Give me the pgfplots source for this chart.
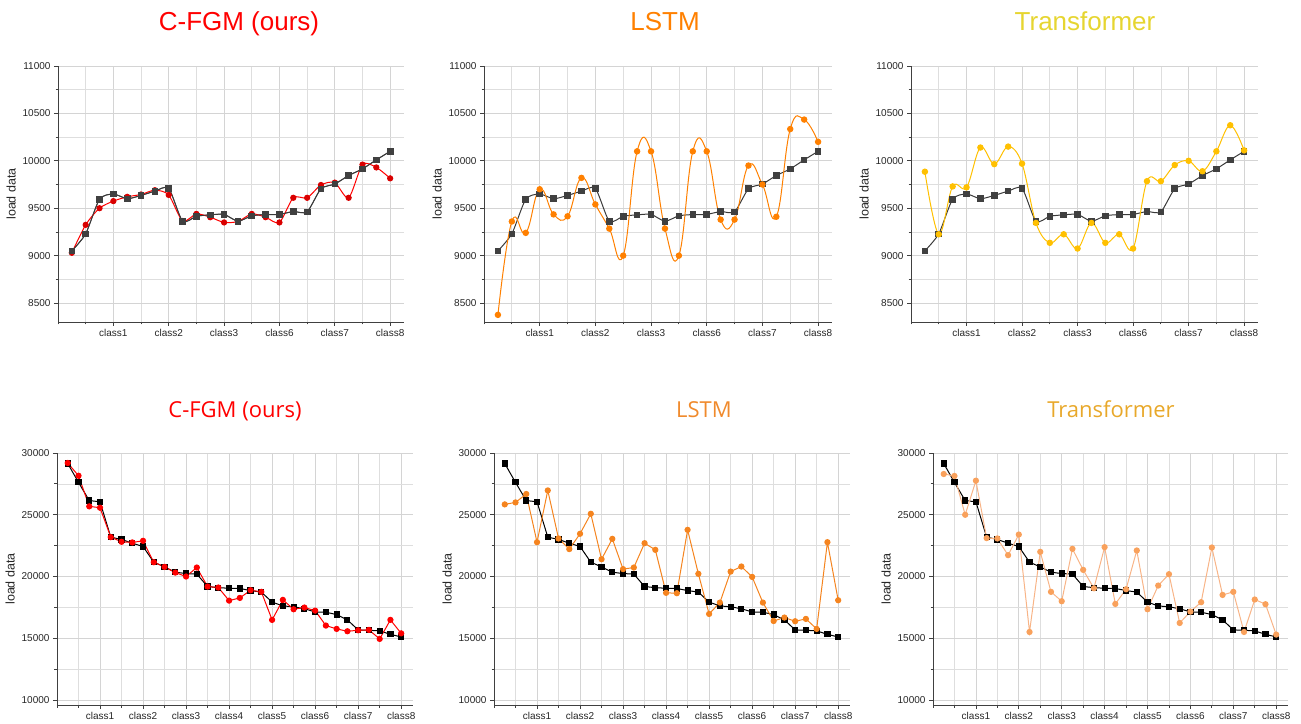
\documentclass[border=0pt]{standalone}
\usepackage{pgfplots}
\usepackage{pgfplotstable}
\pgfplotsset{compat=1.18}
\usepackage{fontspec}
\setmainfont{Liberation Sans}
\newfontfamily\titlefont{Open Sans}

\definecolor{cfgm}{HTML}{FF0000}
\definecolor{lstmA}{HTML}{FF8000}
\definecolor{transA}{HTML}{FFC000}
\definecolor{transAtitle}{HTML}{E6D530}
\definecolor{lstmB}{HTML}{F5841F}
\definecolor{lstmBtitle}{HTML}{F08A2C}
\definecolor{transB}{HTML}{F9A15C}
\definecolor{transBline}{HTML}{F8B487}
\definecolor{transBtitle}{HTML}{E8A82A}
\definecolor{gtA}{HTML}{404040}

% first data set: 24 samples
\pgfplotstableread{
x gt cfgm lstm trans
1 9050 9030 8375 9885
2 9230 9325 9360 9225
3 9595 9500 9240 9730
4 9650 9575 9700 9720
5 9600 9620 9435 10140
6 9635 9645 9415 9965
7 9680 9690 9820 10150
8 9710 9640 9540 9970
9 9363 9365 9285 9345
10 9415 9440 9000 9135
11 9430 9405 10100 9225
12 9435 9350 10100 9075
13 9363 9360 9285 9345
14 9420 9440 9000 9135
15 9433 9405 10100 9225
16 9435 9350 10100 9075
17 9465 9610 9380 9785
18 9462 9610 9380 9785
19 9705 9745 9950 9955
20 9755 9770 9750 10000
21 9845 9610 9410 9890
22 9915 9960 10335 10100
23 10010 9930 10435 10375
24 10100 9815 10200 10110
}\topdata

% second data set: 32 samples
\pgfplotstableread{
x gt cfgm lstm trans
1 29150 29190 25840 28300
2 27620 28160 26000 28140
3 26150 25680 26680 25000
4 26050 25570 22780 27760
5 23190 23190 26970 23110
6 23000 22810 23080 23080
7 22700 22760 22220 21730
8 22430 22890 23460 23400
9 21160 21160 25080 15510
10 20780 20780 21400 22000
11 20350 20320 23050 18760
12 20240 20000 20600 18000
13 20200 20730 20730 22240
14 19190 19190 22700 20540
15 19100 19110 22160 19050
16 19050 18050 18680 22380
17 19030 18270 18650 17780
18 18865 18890 23780 18970
19 18740 18760 20220 22110
20 17930 16490 16970 17350
21 17620 18110 17890 19270
22 17550 17350 20400 20190
23 17390 17490 20810 16240
24 17135 17240 19970 17160
25 17110 16030 17890 17920
26 16920 15760 16400 22350
27 16490 15570 16680 18510
28 15680 15650 16380 18760
29 15650 15680 16570 15510
30 15600 14950 15760 18140
31 15320 16490 22780 17760
32 15110 15400 18080 15300
}\botdata

\pgfplotsset{
  panel/.style={
    scale only axis,
    axis x line=bottom, axis y line=left,
    axis line style={-, draw=black!75, line width=0.9pt},
    every tick/.style={draw=black!75, line width=0.8pt},
    tick align=outside, major tick length=4pt, minor tick length=2.5pt,
    grid=both,
    major grid style={draw=black!17, line width=0.7pt},
    minor grid style={draw=black!13, line width=0.7pt},
    tick label style={font=\fontsize{10}{12}\selectfont, text=black!85},
    scaled y ticks=false,
    /pgf/number format/assume math mode=true,
    /pgf/number format/1000 sep={},
    /pgf/number format/fixed,
    ylabel={load data},
    ylabel style={font=\fontsize{12.5}{14}\selectfont, text=black!85},
  },
  toprow/.style={
    panel, height=256pt,
    xmin=0, xmax=25, ymin=8300, ymax=11000,
    xtick={4,8,...,24},
    xticklabels={class1,class2,class3,class6,class7,class8},
    minor xtick={0,2,6,...,22},
    ytick={8500,9000,...,11000},
    minor ytick={8750,9250,...,10750},
  },
  botrow/.style={
    panel, height=252pt,
    xmin=0, xmax=33.1, ymin=9600, ymax=30000,
    xtick={4,8,...,32},
    xticklabels={class1,class2,class3,class4,class5,class6,class7,class8},
    minor xtick={0,2,6,...,30},
    ytick={10000,15000,...,30000},
    minor ytick={12500,17500,22500,27500},
  },
  gtTop/.style={draw=gtA!90!black, line width=1pt, smooth, tension=0.4,
    mark=square*, mark size=2.8pt, mark options={fill=gtA, draw=gtA}},
  gtBot/.style={draw=black, line width=1pt,
    mark=square*, mark size=2.6pt, mark options={fill=black, draw=black}},
}

\begin{document}
\begin{tikzpicture}
\useasboundingbox (0,0) rectangle (1301pt,723pt);

% ---------- first row ----------
\begin{axis}[toprow, at={(58pt,401pt)}, anchor=south west, width=346pt]
  \addplot[gtTop] table[x=x,y=gt]{\topdata};
  \addplot[draw=cfgm, line width=1pt, smooth, tension=0.45,
    mark=*, mark size=2.6pt, mark options={fill=cfgm!85!black, draw=cfgm!85!black}]
    table[x=x,y=cfgm]{\topdata};
  \addplot[gtTop, line width=0.8pt] table[x=x,y=gt]{\topdata};
\end{axis}

\begin{axis}[toprow, at={(484pt,401pt)}, anchor=south west, width=348pt]
  \addplot[gtTop] table[x=x,y=gt]{\topdata};
  \addplot[draw=lstmA, line width=1pt, smooth, tension=0.75,
    mark=*, mark size=2.7pt, mark options={fill=lstmA, draw=lstmA}]
    table[x=x,y=lstm]{\topdata};
\end{axis}

\begin{axis}[toprow, at={(911pt,401pt)}, anchor=south west, width=347pt]
  \addplot[gtTop] table[x=x,y=gt]{\topdata};
  \addplot[draw=transA, line width=1pt, smooth, tension=0.6,
    mark=*, mark size=2.7pt, mark options={fill=transA, draw=transA}]
    table[x=x,y=trans]{\topdata};
\end{axis}

% ---------- second row ----------
\begin{axis}[botrow, at={(57pt,18pt)}, anchor=south west, width=356pt]
  \addplot[gtBot] table[x=x,y=gt]{\botdata};
  \addplot[draw=cfgm, line width=1pt,
    mark=*, mark size=2.6pt, mark options={fill=cfgm, draw=cfgm}]
    table[x=x,y=cfgm]{\botdata};
\end{axis}

\begin{axis}[botrow, at={(494pt,18pt)}, anchor=south west, width=356pt]
  \addplot[gtBot] table[x=x,y=gt]{\botdata};
  \addplot[draw=lstmB, line width=1pt,
    mark=*, mark size=2.6pt, mark options={fill=lstmB, draw=lstmB}]
    table[x=x,y=lstm]{\botdata};
\end{axis}

\begin{axis}[botrow, at={(933pt,18pt)}, anchor=south west, width=355pt]
  \addplot[gtBot] table[x=x,y=gt]{\botdata};
  \addplot[draw=transBline, line width=1pt,
    mark=*, mark size=2.6pt, mark options={fill=transB, draw=transB}]
    table[x=x,y=trans]{\botdata};
\end{axis}

% ---------- panel titles ----------
\node[anchor=base, text=cfgm, font=\fontsize{26}{30}\selectfont] at (239pt,692pt) {C-FGM (ours)};
\node[anchor=base, text=lstmA, font=\fontsize{26}{30}\selectfont] at (665pt,692pt) {LSTM};
\node[anchor=base, text=transAtitle, font=\fontsize{26}{30}\selectfont] at (1085pt,692pt) {Transformer};

\node[anchor=base, text=cfgm, font=\titlefont\fontsize{22}{26}\selectfont] at (235pt,305pt) {C-FGM (ours)};
\node[anchor=base, text=lstmBtitle, font=\titlefont\fontsize{22}{26}\selectfont] at (704pt,305pt) {LSTM};
\node[anchor=base, text=transBtitle, font=\titlefont\fontsize{22}{26}\selectfont] at (1111pt,305pt) {Transformer};
\end{tikzpicture}
\end{document}
